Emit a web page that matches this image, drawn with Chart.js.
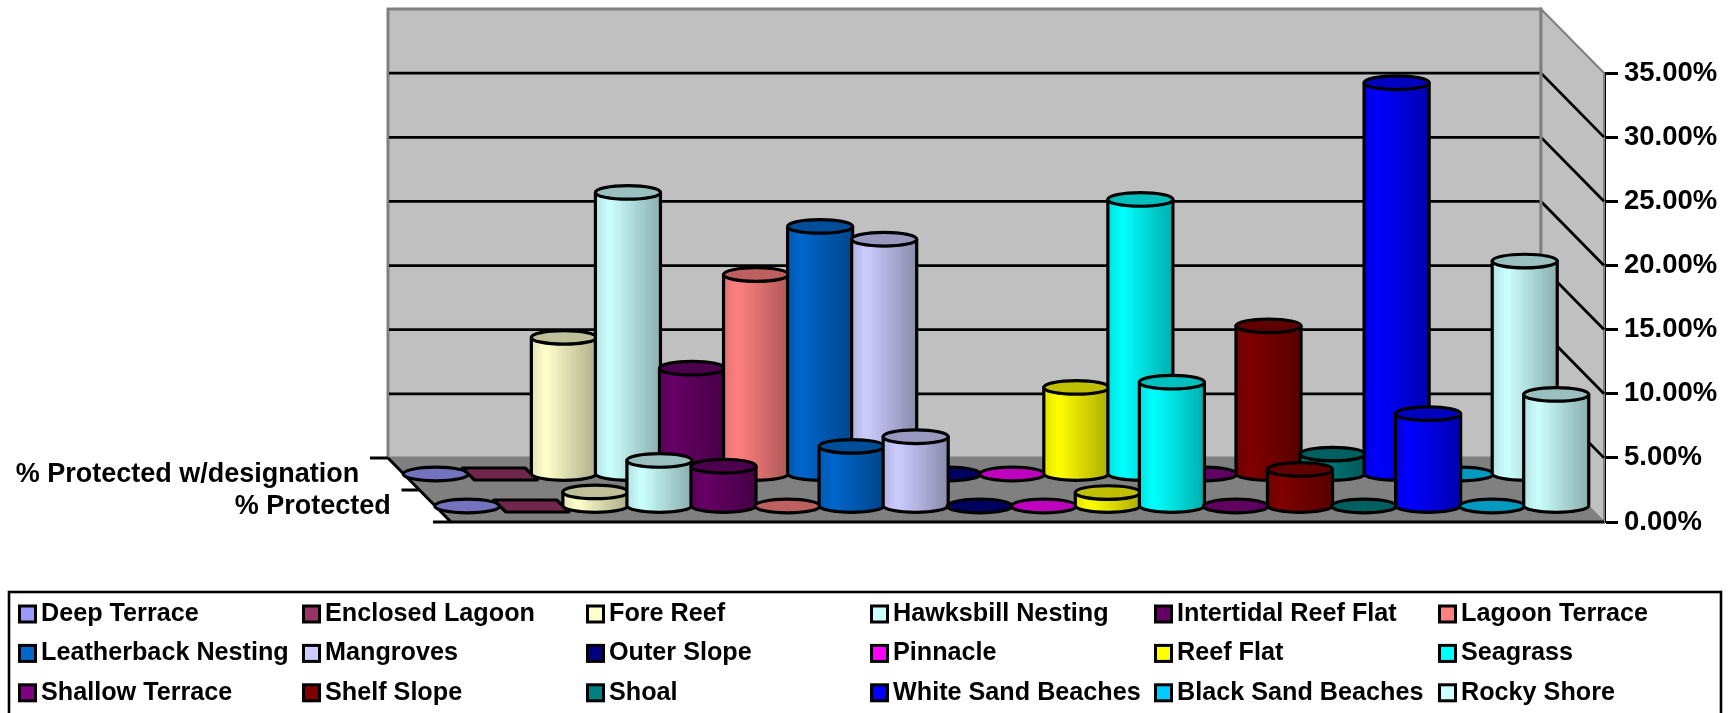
<!DOCTYPE html>
<html>
<head>
<meta charset="utf-8">
<title>Habitat protection</title>
<style>
  html, body { margin: 0; padding: 0; background: #fff; overflow: hidden; }
  canvas { display: block; }
</style>
<script src="https://cdn.jsdelivr.net/npm/chart.js@4/dist/chart.umd.js"></script>
</head>
<body>
<canvas id="chart" width="1732" height="713"></canvas>
<script>
const habitats = [
    "Deep Terrace", "Enclosed Lagoon", "Fore Reef", "Hawksbill Nesting", "Intertidal Reef Flat", "Lagoon Terrace",
    "Leatherback Nesting", "Mangroves", "Outer Slope", "Pinnacle", "Reef Flat", "Seagrass",
    "Shallow Terrace", "Shelf Slope", "Shoal", "White Sand Beaches", "Black Sand Beaches", "Rocky Shore",
];
const habitatColors = [
    "#9999FF", "#993366", "#FFFFCC", "#CCFFFF", "#660066", "#FF8080",
    "#0066CC", "#CCCCFF", "#000080", "#FF00FF", "#FFFF00", "#00FFFF",
    "#800080", "#800000", "#008080", "#0000FF", "#00CCFF", "#CCFFFF",
];
const protectedPct = [0, 0, 1.1, 3.55, 3.1, 0, 4.65, 5.4, 0, 0, 1.05, 9.65, 0, 2.85, 0, 7.2, 0, 8.7];
const designationPct = [0, 0, 10.65, 21.95, 8.25, 15.55, 19.3, 18.3, 0, 0, 6.75, 21.4, 0, 11.55, 1.55, 30.5, 0, 16.6];
const rowLabels = ["% Protected", "% Protected w/designation"];
const boxShaped = ["Enclosed Lagoon"];

const FAMILY = "'Liberation Sans', Arial, sans-serif";
const DEPTH_X = 63;   // oblique shift of the whole floor depth
const DEPTH_Y = 64;
const WALL = "#C0C0C0";
const EDGE = "#808080";
const TOP_SHADE = 0.75;
const OUTLINE = 3.2;
const BANDS = 22;

function shade(hex, k) {
    const n = parseInt(hex.slice(1), 16);
    const r = Math.round(((n >> 16) & 255) * k);
    const g = Math.round(((n >> 8) & 255) * k);
    const b = Math.round((n & 255) * k);
    return `rgb(${r}, ${g}, ${b})`;
}

// Brightness across a cylinder, left edge (0) to right edge (1).
function bodyLight(t) {
    if (t < 0.22)
        return 0.88 + (t / 0.22) * 0.12;
    return 1 - ((t - 0.22) / 0.78) * 0.32;
}

function poly(ctx, pts, fill, stroke, width) {
    ctx.beginPath();
    pts.forEach(([x, y], i) => (i ? ctx.lineTo(x, y) : ctx.moveTo(x, y)));
    ctx.closePath();
    ctx.fillStyle = fill;
    ctx.fill();
    if (stroke) {
        ctx.strokeStyle = stroke;
        ctx.lineWidth = width;
        ctx.stroke();
    }
}

// Bar controller that turns each bar into a cylinder standing on its row of the floor.
class CylinderController extends Chart.BarController {
    draw() {
        const ctx = this.chart.ctx;
        const ds = this.getDataset();
        const dx = DEPTH_X * ds.depth;
        const dy = DEPTH_Y * ds.depth;
        ctx.save();
        ctx.lineWidth = OUTLINE;
        ctx.strokeStyle = "#000";
        ctx.lineJoin = "round";
        this.getMeta().data.forEach((bar, i) => {
            const x = bar.x - dx;
            const top = bar.y - dy;
            const base = bar.base - dy;
            const color = habitatColors[i];
            const r = bar.width / 2 + 0.5;
            const ry = 6.8;

            if (boxShaped.includes(habitats[i])) {
                const skew = 6.2;
                poly(ctx, [
                    [x - r + 1 - skew, top - 6],
                    [x + r - 1 - skew, top - 6],
                    [x + r - 1 + skew, top + 6],
                    [x - r + 1 + skew, top + 6],
                ], shade(color, TOP_SHADE), "#000", OUTLINE);
                return;
            }

            if (base - top > 0.5) {
                // hard-edged stops give the shading its visible vertical bands
                const grad = ctx.createLinearGradient(x - r, 0, x + r, 0);
                for (let b = 0; b < BANDS; b++) {
                    const c = shade(color, bodyLight((b + 0.5) / BANDS));
                    grad.addColorStop(b / BANDS, c);
                    grad.addColorStop((b + 1) / BANDS, c);
                }
                ctx.beginPath();
                ctx.moveTo(x - r, top);
                ctx.lineTo(x - r, base);
                ctx.ellipse(x, base, r, ry, 0, Math.PI, 0, true);
                ctx.lineTo(x + r, top);
                ctx.closePath();
                ctx.fillStyle = grad;
                ctx.fill();
                ctx.stroke();
            }
            ctx.beginPath();
            ctx.ellipse(x, top, r, ry, 0, 0, Math.PI * 2);
            ctx.fillStyle = shade(color, TOP_SHADE);
            ctx.fill();
            ctx.stroke();
        });
        ctx.restore();
    }
}
CylinderController.id = "cylinder";
CylinderController.defaults = Chart.BarController.defaults;
Chart.register(CylinderController);

// Walls, floor and gridlines behind the cylinders.
const roomPlugin = {
    id: "room",
    beforeDatasetsDraw(chart) {
        const { ctx, chartArea: a, scales: { y } } = chart;
        const backL = a.left - DEPTH_X;
        const backR = a.right - DEPTH_X;
        const y0 = y.getPixelForValue(0);
        const yMax = y.getPixelForValue(y.max);

        ctx.save();
        ctx.lineJoin = "miter";
        poly(ctx, [[backL, yMax - DEPTH_Y], [backR, yMax - DEPTH_Y], [backR, y0 - DEPTH_Y], [backL, y0 - DEPTH_Y]], WALL, EDGE, 3);
        poly(ctx, [[backR, yMax - DEPTH_Y], [a.right, yMax], [a.right, y0], [backR, y0 - DEPTH_Y]], WALL, EDGE, 2);
        poly(ctx, [[backL, y0 - DEPTH_Y], [backR, y0 - DEPTH_Y], [a.right, y0], [a.left, y0]], EDGE);

        ctx.strokeStyle = "#000";
        ctx.lineWidth = 2.8;
        ctx.beginPath();
        y.ticks.forEach((t) => {
            if (t.value === 0 || t.value === y.max)
                return;
            const py = y.getPixelForValue(t.value);
            ctx.moveTo(backL + 1, py - DEPTH_Y);
            ctx.lineTo(backR, py - DEPTH_Y);
            ctx.lineTo(a.right, py);
        });
        ctx.stroke();
        ctx.strokeStyle = EDGE;
        ctx.lineWidth = 3;
        ctx.beginPath();
        ctx.moveTo(backR, y0 - DEPTH_Y);
        ctx.lineTo(backR, yMax - DEPTH_Y);
        ctx.stroke();

        // Depth axis along the left floor edge, with the row names.
        ctx.strokeStyle = "#000";
        ctx.lineWidth = 3;
        ctx.beginPath();
        ctx.moveTo(backL, y0 - DEPTH_Y);
        ctx.lineTo(a.left, y0);
        ctx.lineTo(a.right, y0);
        [0, 0.5, 1].forEach((d) => {
            ctx.moveTo(a.left - DEPTH_X * d, y0 - DEPTH_Y * d);
            ctx.lineTo(a.left - DEPTH_X * d - 18, y0 - DEPTH_Y * d);
        });
        ctx.stroke();

        ctx.font = `bold 27px ${FAMILY}`;
        ctx.fillStyle = "#000";
        ctx.textAlign = "right";
        ctx.textBaseline = "middle";
        rowLabels.forEach((label, i) => {
            const d = 0.25 + i * 0.5;
            ctx.fillText(label, a.left - 44.5 - DEPTH_X * d, y0 - DEPTH_Y * d + 1);
        });
        ctx.restore();
    },
};

// Framed legend: six evenly spaced columns, three rows.
const gridLegendPlugin = {
    id: "gridLegend",
    afterDraw(chart) {
        const ctx = chart.ctx;
        ctx.save();
        ctx.strokeStyle = "#000";
        ctx.lineWidth = 2.6;
        ctx.strokeRect(9, 592, 1712, 130);
        ctx.font = `bold 25.2px ${FAMILY}`;
        ctx.textAlign = "left";
        ctx.textBaseline = "middle";
        ctx.lineWidth = 3;
        habitats.forEach((name, i) => {
            const x = 19.5 + (i % 6) * 284;
            const y = 614 + Math.floor(i / 6) * 39.4;
            ctx.fillStyle = habitatColors[i];
            ctx.fillRect(x, y - 8, 16, 16);
            ctx.strokeRect(x, y - 8, 16, 16);
            ctx.fillStyle = "#000";
            ctx.fillText(name, x + 21.5, y);
        });
        ctx.restore();
    },
};

new Chart(document.getElementById("chart"), {
    type: "cylinder",
    data: {
        labels: habitats,
        datasets: [
            { label: rowLabels[0], data: protectedPct, depth: 0.25, clip: false, grouped: false, barPercentage: 1, categoryPercentage: 1 },
            { label: rowLabels[1], data: designationPct, depth: 0.75, clip: false, grouped: false, barPercentage: 1, categoryPercentage: 1 },
        ],
    },
    plugins: [roomPlugin, gridLegendPlugin],
    options: {
        responsive: false,
        animation: false,
        events: [],
        layout: { padding: { left: 451, top: 73, bottom: 191, right: 0 } },
        plugins: { legend: { display: false }, tooltip: { enabled: false }, title: { display: false } },
        scales: {
            x: { type: "category", display: false },
            y: {
                type: "linear",
                position: "right",
                min: 0,
                max: 35,
                afterFit: (scale) => { scale.width = 128; },
                grid: { drawOnChartArea: false, drawTicks: true, tickLength: 14, tickColor: "#000", tickWidth: 3 },
                border: { display: true, color: "#000", width: 3 },
                ticks: {
                    stepSize: 5,
                    padding: 6,
                    color: "#000",
                    font: { family: FAMILY, size: 27.5, weight: "bold" },
                    callback: (v) => v.toFixed(2) + "%",
                },
            },
        },
    },
});
</script>
</body>
</html>
